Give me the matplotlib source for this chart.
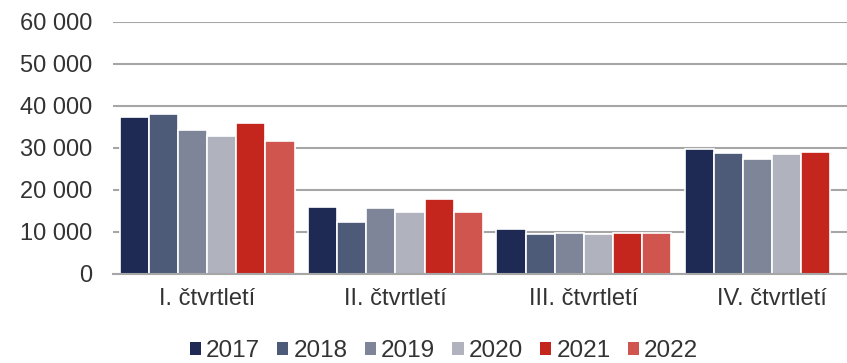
import numpy as np
import matplotlib
matplotlib.use("Agg")
import matplotlib.pyplot as plt

# Quarterly values by year
quarters = ["I. čtvrtletí", "II. čtvrtletí", "III. čtvrtletí", "IV. čtvrtletí"]
years = ["2017", "2018", "2019", "2020", "2021", "2022"]
v2017 = [37450, 16030, 10790, 29760]
v2018 = [38020, 12300, 9600, 28810]
v2019 = [34290, 15710, 9840, 27380]
v2020 = [32780, 14760, 9600, 28490]
v2021 = [35870, 17780, 9680, 28970]
v2022 = [31740, 14680, 9840, None]
yticks = [0, 10000, 20000, 30000, 40000, 50000, 60000]

series = [v2017, v2018, v2019, v2020, v2021, v2022]
colors = ["#1f2a54", "#4d5a78", "#7f8599", "#b0b2be", "#c4261e", "#d0554e"]

plt.rcParams["font.family"] = ["Liberation Sans", "DejaVu Sans"]
text_col = "#333333"
grid_col = "#a6a6a6"

fig = plt.figure(figsize=(8.47, 3.63), dpi=100)
ax = fig.add_axes([113 / 847, 1 - 274 / 363, 1 - 113 / 847, (274 - 22) / 363])

x = np.arange(len(quarters))
group = 0.928
w = group / len(years)
for i, (vals, c) in enumerate(zip(series, colors)):
    xs = [xx for xx, v in zip(x, vals) if v is not None]
    hs = [v for v in vals if v is not None]
    ax.bar(np.array(xs) - group / 2 + w * (i + 0.5), hs, width=w,
           color=c, edgecolor="white", linewidth=1.2, label=years[i], zorder=3)

ax.set_ylim(0, 60000)
ax.set_xlim(-0.5, -0.5 + 734 / 188.3)
ax.set_yticks(yticks)
ax.set_yticklabels([f"{t:,}".replace(",", " ") for t in yticks])
ax.set_xticks(x)
ax.set_xticklabels(quarters)
ax.yaxis.grid(True, color=grid_col, linewidth=1.5, zorder=0)
ax.tick_params(axis="both", length=0, labelsize=17, colors=text_col)
ax.tick_params(axis="y", pad=15)
ax.tick_params(axis="x", pad=10)
for s in ["top", "right", "left"]:
    ax.spines[s].set_visible(False)
ax.spines["bottom"].set_color(grid_col)
ax.spines["bottom"].set_linewidth(1.5)
ax.spines["bottom"].set_zorder(4)

leg = fig.legend(loc="lower center", bbox_to_anchor=(0.524, -0.058), ncol=6,
                 frameon=False, fontsize=17.5, handlelength=0.46, handleheight=0.46,
                 handletextpad=0.2, columnspacing=0.72, labelcolor=text_col)
for h in leg.legend_handles:
    h.set_linewidth(0)

fig.savefig("out.png", dpi=100)
